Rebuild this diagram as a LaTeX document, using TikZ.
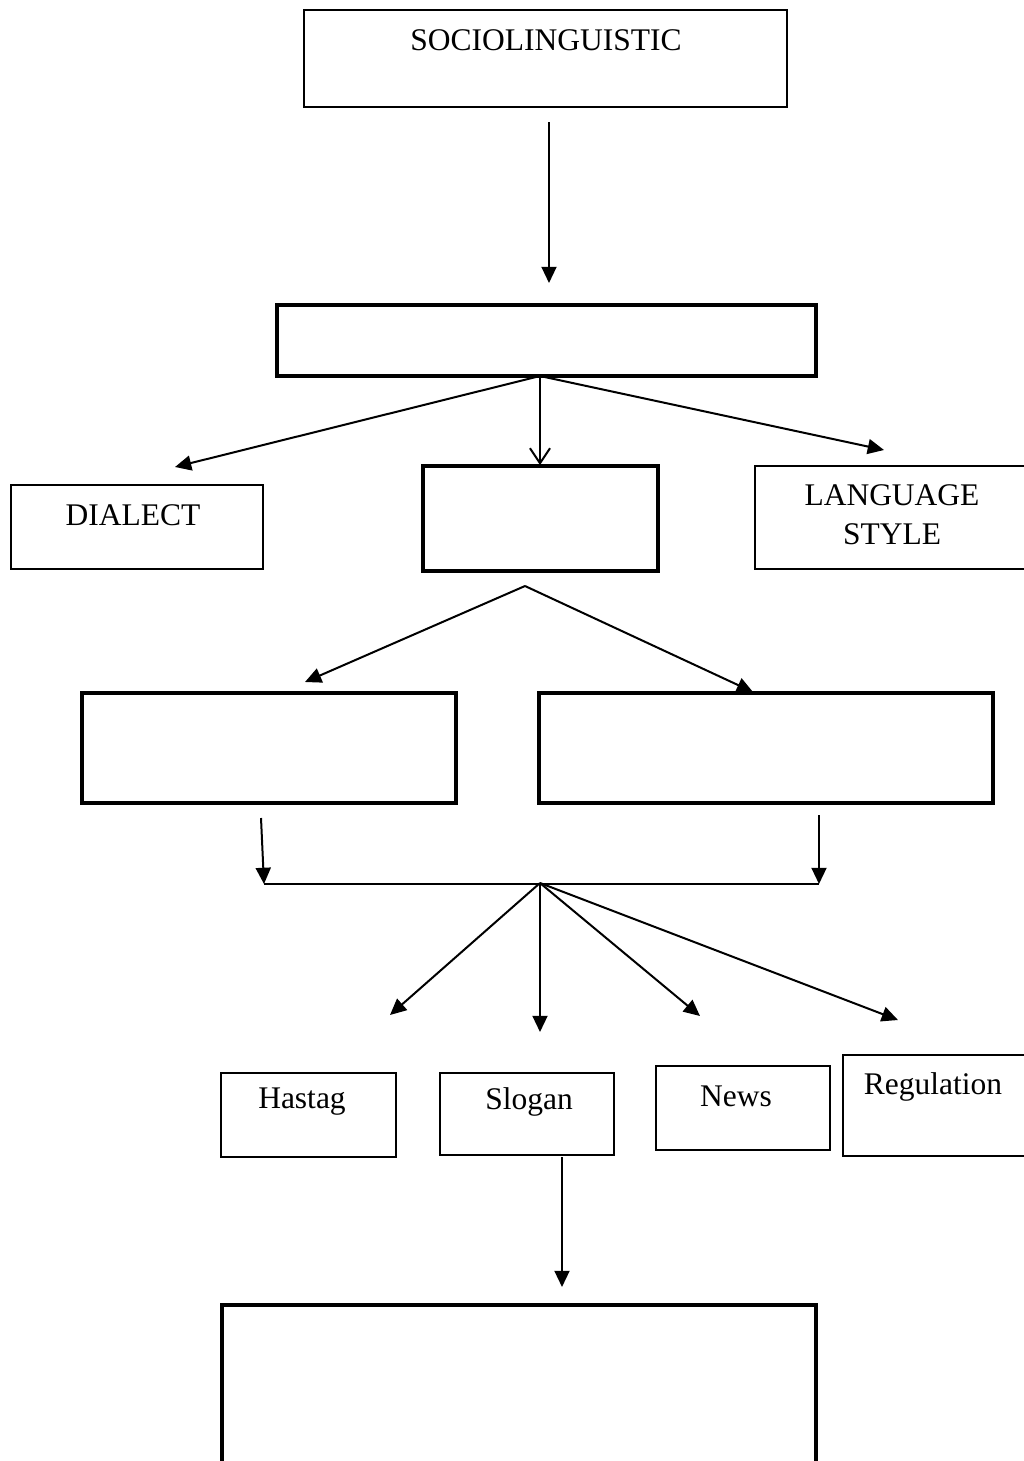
\documentclass[tikz,border=0pt]{standalone}
\usepackage{fontspec}
\setmainfont{Liberation Serif}
\usetikzlibrary{arrows.meta}
\begin{document}
\begin{tikzpicture}[x=0.4pt,y=-0.4pt,
    box/.style={draw,line width=0.7pt,inner sep=0pt},
    thickbox/.style={draw,line width=1.7pt,inner sep=0pt},
    txt/.style={inner sep=0pt,font=\fontsize{12.6}{15.5}\selectfont,align=center},
    arr/.style={line width=0.8pt,-{Triangle[length=6.5pt,width=6pt]}},
    barb/.style={line width=0.8pt,-{Straight Barb[length=6pt,width=8pt]}}]
  \useasboundingbox (0,0) rectangle (1024,1461);
  \clip (0,0) rectangle (1024,1461);
  % boxes
  \draw
    (545.5,58.5) node[box,minimum width=193.2pt,minimum height=38.8pt] (socio){}
    (546.5,340.5) node[thickbox,minimum width=215.6pt,minimum height=28.4pt] (var){}
    (137,527) node[box,minimum width=100.8pt,minimum height=33.6pt] (dialect){}
    (540.5,518.5) node[thickbox,minimum width=94pt,minimum height=42pt] (mid){}
    (897.5,517.5) node[box,minimum width=114pt,minimum height=41.2pt] (style){}
    (269,748) node[thickbox,minimum width=149.6pt,minimum height=44pt] (left){}
    (766,748) node[thickbox,minimum width=181.6pt,minimum height=44pt] (right){}
    (308.5,1115) node[box,minimum width=70pt,minimum height=33.6pt] (hastag){}
    (527,1114) node[box,minimum width=69.6pt,minimum height=32.8pt] (slogan){}
    (743,1108) node[box,minimum width=69.6pt,minimum height=33.6pt] (news){}
    (941.5,1105.5) node[box,minimum width=78.8pt,minimum height=40.4pt] (regul){}
    (519,1402.5) node[thickbox,minimum width=237.6pt,minimum height=78pt] (result){};
  % texts
  \draw
    (546,40) node[txt] (socioT){SOCIOLINGUISTIC}
    (133,515) node[txt] (dialectT){DIALECT}
    (892,515) node[txt] (styleT){LANGUAGE\\STYLE}
    (302,1102) node[txt] (hastagT){Hastag}
    (529,1102) node[txt] (sloganT){Slogan}
    (736,1096) node[txt] (newsT){News}
    (933,1087) node[txt] (regulT){Regulation};
  % free ends
  \coordinate (s0) at (549,122);
  \coordinate (s1) at (549,283);
  \coordinate (v0) at (540,376);
  \coordinate (v1) at (175,467);
  \coordinate (v2) at (540,465);
  \coordinate (v3) at (884,450);
  \coordinate (m0) at (525,586);
  \coordinate (m1) at (305,682);
  \coordinate (m2) at (753,692);
  \coordinate (l0) at (261,818);
  \coordinate (l1) at (264,884);
  \coordinate (r0) at (819,815);
  \coordinate (r1) at (819,884);
  \coordinate (j) at (540,883);
  \coordinate (k1) at (390,1015);
  \coordinate (k2) at (540,1032);
  \coordinate (k3) at (700,1016);
  \coordinate (k4) at (898,1020);
  \coordinate (q0) at (562,1157);
  \coordinate (q1) at (562,1287);
  \begin{scope}[arr]
    \draw (s0) to (s1);
    \draw (v0) to (v1);
    \draw (v0) to (v3);
    \draw (m0) to (m1);
    \draw (m0) to (m2);
    \draw (l0) to (l1);
    \draw (r0) to (r1);
    \draw (j) to (k1);
    \draw (j) to (k2);
    \draw (j) to (k3);
    \draw (j) to (k4);
    \draw (q0) to (q1);
  \end{scope}
  \draw[barb] (v0) to (v2);
  \draw[line width=0.8pt] (l1) to (r1);
\end{tikzpicture}
\end{document}
